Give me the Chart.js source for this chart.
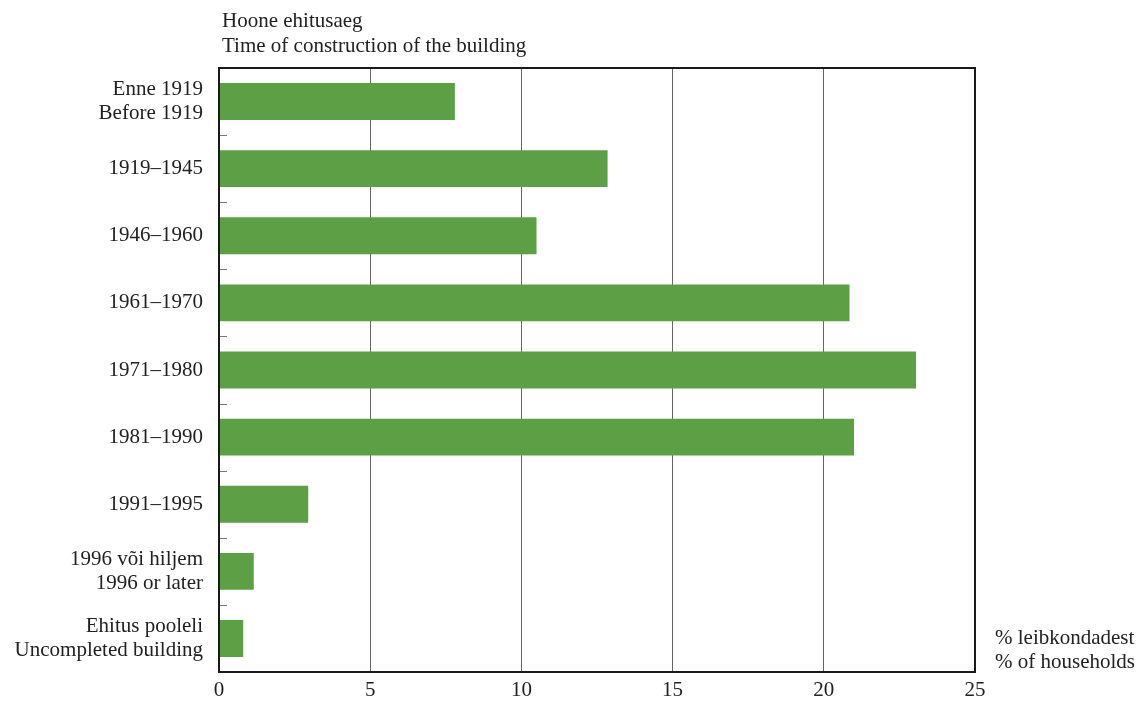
<!DOCTYPE html>
<html>
<script src="https://cdn.jsdelivr.net/npm/chart.js"></script>
<style type="text/css">
  body{ margin:0; background:#fff; }
</style>
<body>
  <canvas id="myChart" width="1141" height="702"></canvas>

  <script>
    const categories = [
      ['Enne 1919', 'Before 1919'],
      '1919–1945',
      '1946–1960',
      '1961–1970',
      '1971–1980',
      '1981–1990',
      '1991–1995',
      ['1996 või hiljem', '1996 or later'],
      ['Ehitus pooleli', 'Uncompleted building']
    ];
    const shares = [7.8, 12.85, 10.5, 20.85, 23.05, 21.0, 2.95, 1.15, 0.8];
    const xTicks = [0, 5, 10, 15, 20, 25];

    const FONT = "'Liberation Serif', 'Times New Roman', serif";

    // frame, inner category ticks and the two axis titles
    const extras = {
      id: 'extras',
      afterDraw(chart) {
        const c = chart.ctx, a = chart.chartArea;
        c.save();
        c.strokeStyle = '#777';
        c.lineWidth = 1;
        const y = chart.scales.y;
        for (let i = 1; i < categories.length; i++) {
          const yy = Math.round((y.getPixelForValue(i - 1) + y.getPixelForValue(i)) / 2) + 0.5;
          c.beginPath();
          c.moveTo(a.left, yy);
          c.lineTo(a.left + 8, yy);
          c.stroke();
        }
        c.strokeStyle = '#1a1a1a';
        c.lineWidth = 2;
        c.strokeRect(a.left, a.top, a.right - a.left, a.bottom - a.top);
        c.fillStyle = '#222';
        c.font = '21px ' + FONT;
        c.textBaseline = 'middle';
        c.textAlign = 'left';
        c.fillText('Hoone ehitusaeg', 222, 21);
        c.fillText('Time of construction of the building', 222, 46);
        c.fillText('% leibkondadest', 995, 638);
        c.fillText('% of households', 995, 662);
        c.restore();
      }
    };

    var ctx = document.getElementById('myChart').getContext('2d');
    var myChart = new Chart(ctx, {
      type: 'bar',
      data: {
        labels: categories,
        datasets: [{
          data: shares,
          backgroundColor: '#5c9f45',
          borderWidth: 0,
          barPercentage: 0.55,
          categoryPercentage: 1
        }]
      },
      options: {
        indexAxis: 'y',
        responsive: false,
        animation: false,
        layout: { padding: { top: 68, right: 166, left: 0, bottom: 0 } },
        plugins: { legend: false, tooltip: { enabled: false } },
        scales: {
          x: {
            min: 0,
            max: 25,
            afterBuildTicks(scale) { scale.ticks = xTicks.map(v => ({ value: v })); },
            afterFit(scale) { scale.height = 30; scale.paddingLeft = 0; scale.paddingRight = 0; },
            ticks: { color: '#222', font: { family: FONT, size: 21 }, padding: 6 },
            grid: { color: '#666', lineWidth: 1, drawTicks: false },
            border: { display: false }
          },
          y: {
            afterFit(scale) { scale.width = 219; scale.paddingTop = 0; scale.paddingBottom = 0; },
            ticks: { color: '#222', font: { family: FONT, size: 21, lineHeight: 1.15 }, padding: 16 },
            grid: { display: false, drawTicks: false },
            border: { display: false }
          }
        }
      },
      plugins: [extras]
    });
  </script>
</body>
</html>
